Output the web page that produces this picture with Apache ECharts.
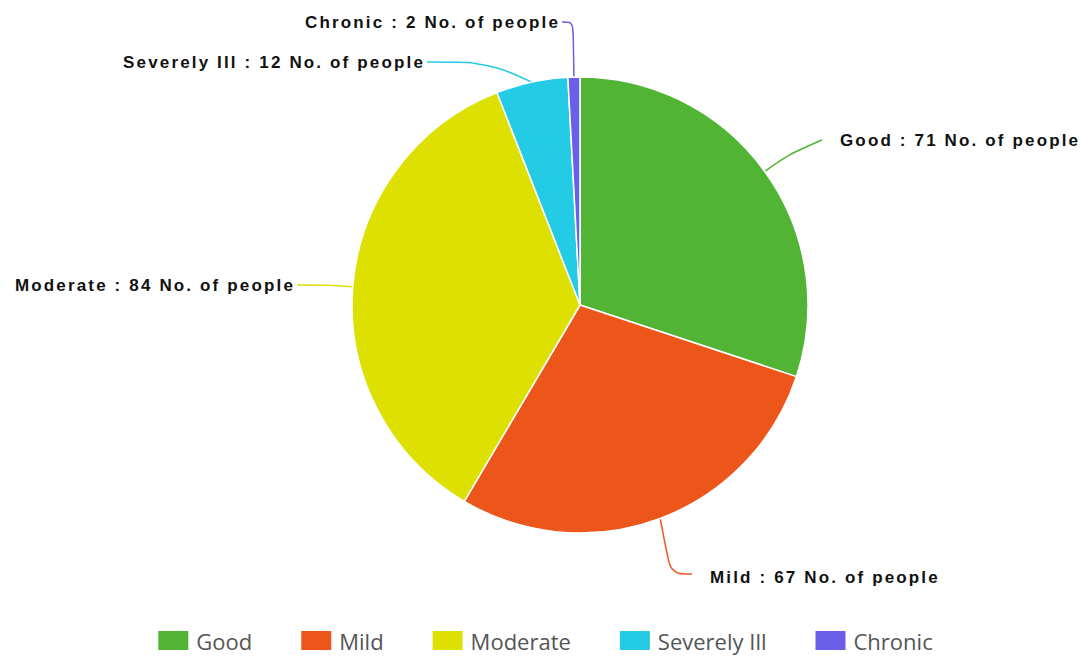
<!DOCTYPE html>
<html><head><meta charset="utf-8">
<script src="https://cdn.jsdelivr.net/npm/echarts@6/dist/echarts.min.js"></script>
<style>html,body{margin:0;padding:0;background:#fff}#c{width:1089px;height:657px}
#c text[style*="bold"]{letter-spacing:2.15px}</style>
</head><body><div id="c"></div>
<script>
const categories = ['Good', 'Mild', 'Moderate', 'Severely Ill', 'Chronic'];
const values = [71, 67, 84, 12, 2];
const colors = ['#52b434', '#ec561b', '#dde000', '#24cbe5', '#6a5fe6'];
const unit = 'No. of people';

const chart = echarts.init(document.getElementById('c'), null, {renderer: 'svg'});
// label placement (x, y of label anchor, alignment, connector elbow style)
const labelPlace = [
  {x: 840, y: 140, align: 'left', radialElbow: true},
  {x: 710, y: 577, align: 'left', dy: -3},
  {x: 295, y: 285, align: 'right'},
  {x: 425, y: 62, align: 'right'},
  {x: 560, y: 22, align: 'right'}
];
chart.setOption({
  animation: false,
  color: colors,
  legend: {
    bottom: 0,
    left: 'center',
    itemWidth: 32,
    itemHeight: 21,
    itemGap: 47,
    icon: 'rect',
    textStyle: {fontFamily: 'Open Sans', fontSize: 22, color: '#555', padding: [0, 0, 0, 2]},
    data: categories
  },
  series: [{
    type: 'pie',
    center: [580, 305],
    radius: 228,
    startAngle: 90,
    clockwise: true,
    itemStyle: {borderColor: '#fff', borderWidth: 1.5},
    label: {
      formatter: p => p.name + ' : ' + p.value + ' ' + unit,
      fontFamily: 'Liberation Sans',
      fontWeight: 'bold',
      fontSize: 17,
      color: '#111'
    },
    labelLine: {length: 30, length2: 20, smooth: 0.35, lineStyle: {width: 1.5}},
    labelLayout: function (p) {
      const L = labelPlace[p.dataIndex];
      const pts = p.labelLinePoints;
      const out = {x: L.x, y: L.y, align: L.align, verticalAlign: 'middle'};
      if (pts) {
        const endX = L.align === 'left' ? L.x - 18 : L.x + 2;
        const endY = L.y + (L.dy || 0);
        const elbow = L.radialElbow ? pts[1] : [pts[1][0], endY];
        out.labelLinePoints = [pts[0], elbow, [endX, endY]];
      }
      return out;
    },
    data: categories.map((n, i) => ({name: n, value: values[i]}))
  }]
});
</script></body></html>
